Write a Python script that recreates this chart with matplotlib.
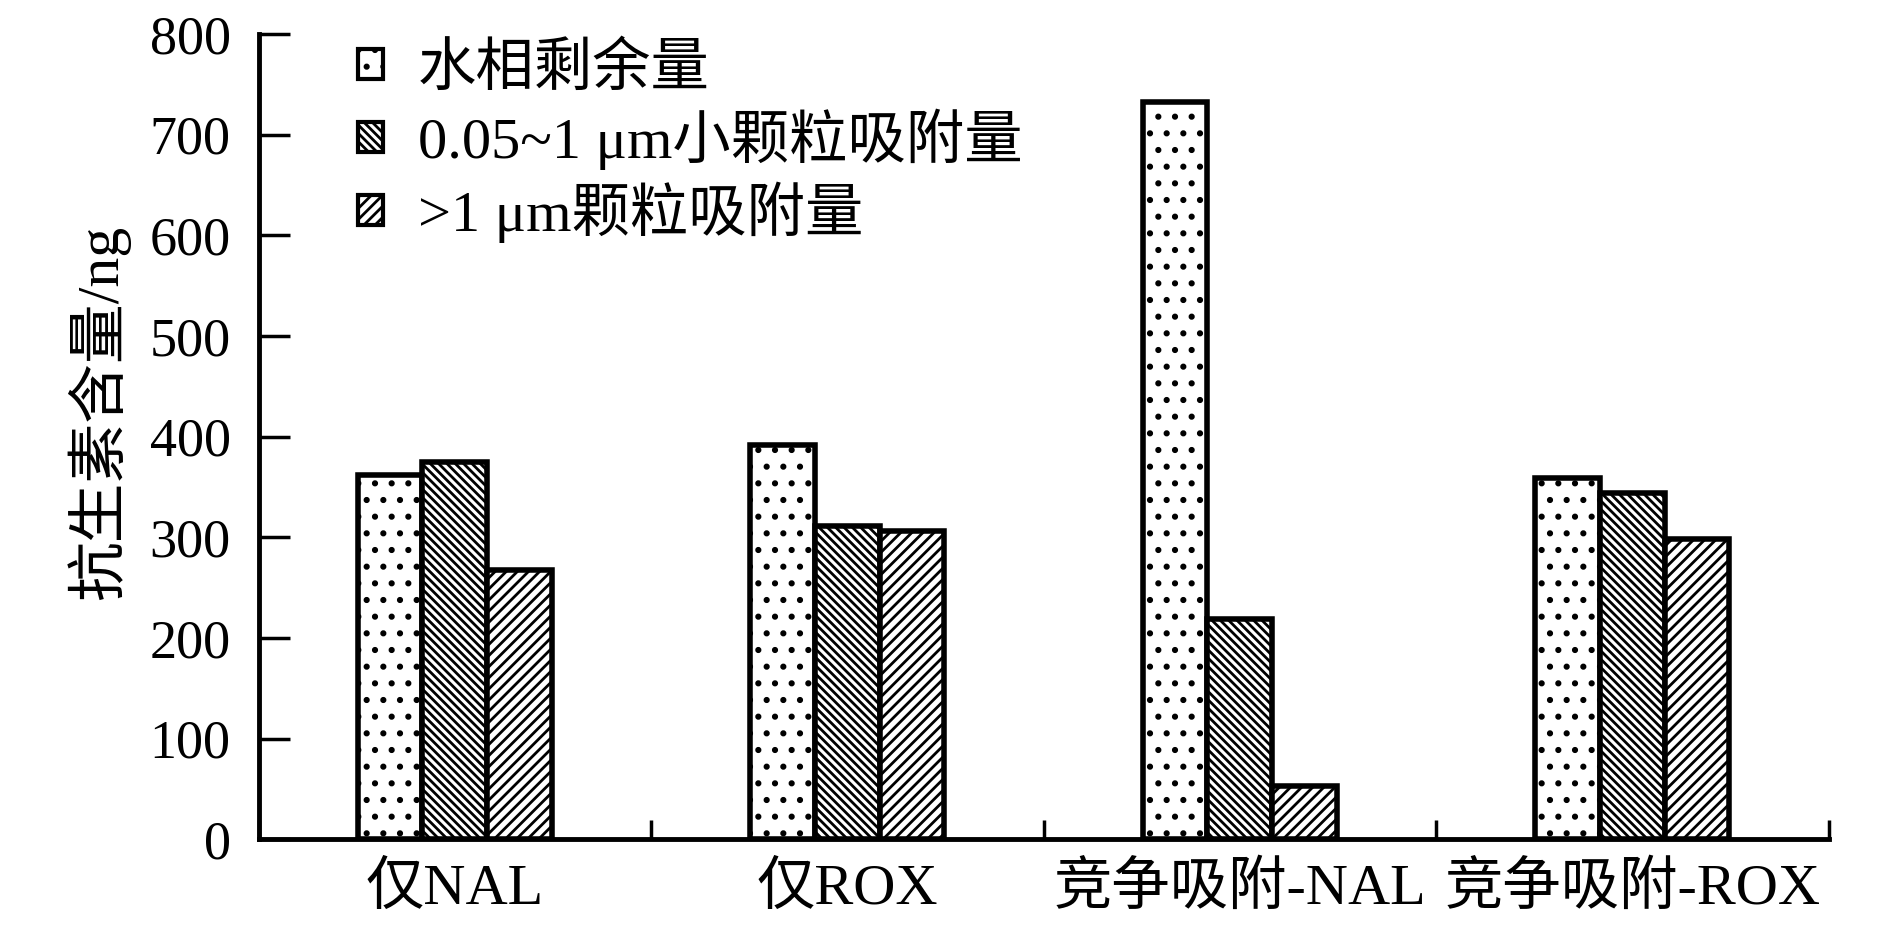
import matplotlib
matplotlib.use("Agg")
import matplotlib.pyplot as plt
import numpy as np

categories = ["仅NAL", "仅ROX", "竞争吸附-NAL", "竞争吸附-ROX"]
series_names = ["水相剩余量", "0.05~1 μm小颗粒吸附量", ">1 μm颗粒吸附量"]
water = [362, 392, 732, 359]
small = [375, 311, 219, 344]
large = [267, 306, 53, 298]
yticks = [0, 100, 200, 300, 400, 500, 600, 700, 800]

fam = ["Liberation Serif", "Noto Sans CJK SC", "DejaVu Sans"]
plt.rcParams['font.family'] = fam
plt.rcParams['hatch.linewidth'] = 2.0
plt.rcParams['hatch.color'] = 'black'

fig = plt.figure(figsize=(18.87, 9.44), dpi=100)
ax = fig.add_axes([0.137, 0.111, 0.832, 0.853])

x = np.arange(len(categories))
w = 0.165
hatches = ['.', '\\\\\\\\', '///']
for i, (vals, hat, name) in enumerate(zip([water, small, large], hatches, series_names)):
    ax.bar(x + (i - 1) * w, vals, width=w, facecolor='white', edgecolor='black',
           linewidth=4, hatch=hat, label=name, zorder=2)

ax.set_xlim(-0.5, 3.5)
ax.set_ylim(0, 800)
ax.set_yticks(yticks)
ax.set_yticklabels([str(v) for v in yticks], fontsize=39)
ax.tick_params(axis='y', direction='in', length=22, width=2.5, pad=20)
ax.set_xticks(np.arange(-0.5, 4.0, 1.0))
ax.set_xticklabels([])
ax.tick_params(axis='x', which='major', direction='in', length=14, width=2.5)
ax.set_xticks(x, minor=True)
ax.set_xticklabels(categories, minor=True, fontsize=42)
ax.tick_params(axis='x', which='minor', length=0, pad=16)

for s in ['top', 'right']:
    ax.spines[s].set_visible(False)
for s in ['left', 'bottom']:
    ax.spines[s].set_linewidth(3.5)

ax.set_ylabel("抗生素含量/ng", fontsize=43)
ax.yaxis.set_label_coords(-0.082, 0.53)

leg = ax.legend(loc='upper left', bbox_to_anchor=(0.03, 1.055), frameon=False,
                fontsize=42, handlelength=0.42, handleheight=0.42,
                handletextpad=0.6, labelspacing=0.2)
for h in leg.legend_handles:
    h.set_linewidth(3)

fig.savefig("out.png", dpi=100, facecolor='white')
